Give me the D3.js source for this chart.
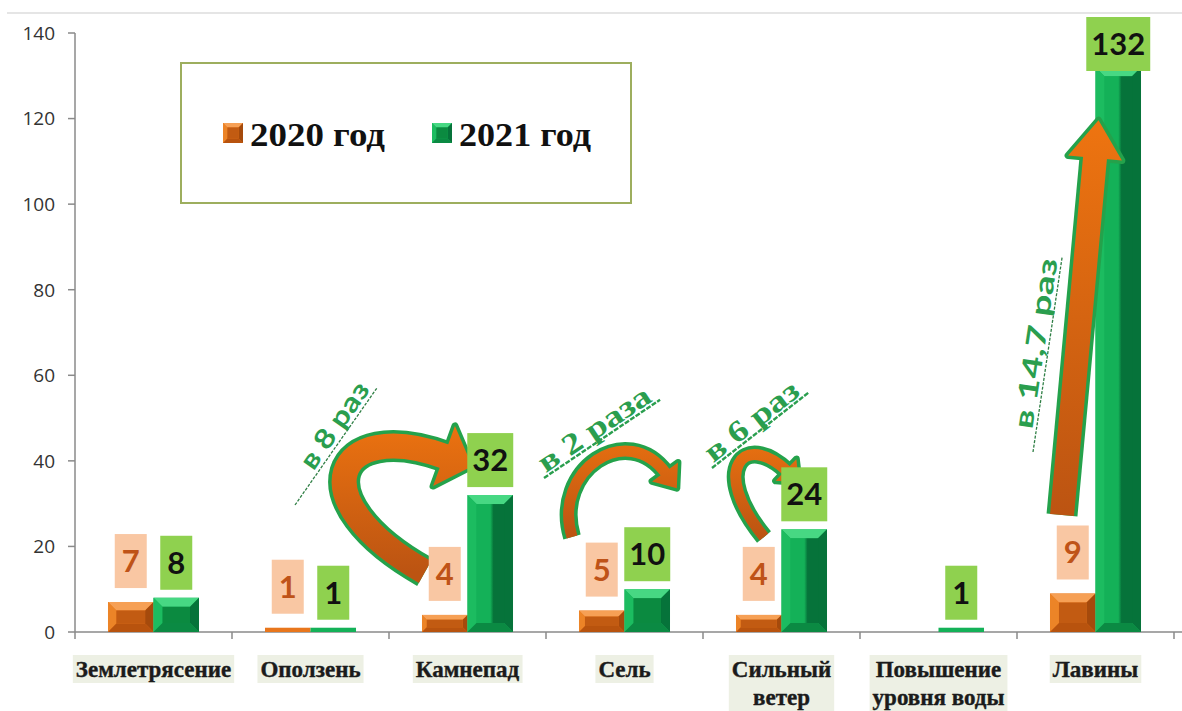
<!DOCTYPE html>
<html><head><meta charset="utf-8">
<script src="https://cdn.jsdelivr.net/npm/d3@7"></script>
<style>
html,body{margin:0;padding:0;background:#fff;}
svg{display:block;}
</style></head>
<body>
<svg id="chart" width="1182" height="711"></svg>
<script>
const categories = ["Землетрясение","Оползень","Камнепад","Сель","Сильный ветер","Повышение уровня воды","Лавины"];
const categoryLines = [["Землетрясение"],["Оползень"],["Камнепад"],["Сель"],["Сильный","ветер"],["Повышение","уровня воды"],["Лавины"]];
const seriesNames = ["2020 год","2021 год"];
const values2020 = [7,1,4,5,4,0,9];
const values2021 = [8,1,32,10,24,1,132];
const yTicks = [0,20,40,60,80,100,120,140];
const growthTexts = ["в 8 раз","в 2 раза","в 6 раз","в 14,7 раз"];
const growthCategories = ["Камнепад","Сель","Сильный ветер","Лавины"];

const svg = d3.select("#chart");
const W = 1182, H = 711;
const x = d3.scaleBand().domain(categories).range([75, 1174]).padding(0);
const xs = d3.scaleBand().domain(seriesNames).range([0, x.bandwidth()]).paddingInner(0).paddingOuter(0.725);
const y = d3.scaleLinear().domain([0, 140]).range([632, 33]);

const pal = [
  {main:"#E8761C", light:"#F6A055", mid:"#EC8427", dark:"#A54A0C", dark2:"#B8530E", inner:"#C25B12",
   box:"#F9C7A3", txt:"#BF5318"},
  {main:"#14B158", light:"#47D883", mid:"#1CBC60", dark:"#06733A", dark2:"#0B8A43", inner:"#0B8A40",
   box:"#8FD14F", txt:"#111"}
];

const defs = svg.append("defs");
pal.forEach((p,i)=>{
  const g = defs.append("linearGradient").attr("id","inner"+i).attr("x1",0).attr("x2",1).attr("y1",0).attr("y2",0);
  g.append("stop").attr("offset","0%").attr("stop-color",p.main);
  g.append("stop").attr("offset","50%").attr("stop-color",p.main);
  g.append("stop").attr("offset","62%").attr("stop-color",p.dark);
  g.append("stop").attr("offset","100%").attr("stop-color",p.dark);
});

// top border line
svg.append("line").attr("x1",7).attr("x2",W).attr("y1",13).attr("y2",13).attr("stroke","#dcdcdc").attr("stroke-width",1.5);

// axes
const axisColor = "#8a8a8a";
const gy = svg.append("g");
gy.append("line").attr("x1",75).attr("x2",75).attr("y1",y(140)).attr("y2",y(0)).attr("stroke",axisColor).attr("stroke-width",1.5);
yTicks.forEach(t=>{
  gy.append("line").attr("x1",68).attr("x2",75).attr("y1",y(t)).attr("y2",y(t)).attr("stroke",axisColor).attr("stroke-width",1.5);
  gy.append("text").attr("x",55).attr("y",y(t)).attr("dy","0.36em").attr("text-anchor","end")
    .attr("font-family","'Open Sans',sans-serif").attr("font-size",19).attr("fill","#333").text(t);
});
const gx = svg.append("g");
gx.append("line").attr("x1",75).attr("x2",W).attr("y1",y(0)).attr("y2",y(0)).attr("stroke",axisColor).attr("stroke-width",1.5);
categories.forEach(c=>{
  gx.append("line").attr("x1",x(c)).attr("x2",x(c)).attr("y1",y(0)).attr("y2",y(0)+7).attr("stroke",axisColor).attr("stroke-width",1.5);
});
gx.append("line").attr("x1",x.range()[1]).attr("x2",x.range()[1]).attr("y1",y(0)).attr("y2",y(0)+7).attr("stroke",axisColor).attr("stroke-width",1.5);

// category labels
categories.forEach((c,i)=>{
  const g = gx.append("g");
  const cx = x(c) + x.bandwidth()/2;
  const t = g.append("text").attr("text-anchor","middle")
    .attr("font-family","'Liberation Serif',serif").attr("font-weight","bold").attr("font-size",23)
    .attr("fill","#1b1b1b").attr("stroke","#1b1b1b").attr("stroke-width",0.4);
  categoryLines[i].forEach((ln,j)=>{
    t.append("tspan").attr("x",cx).attr("y",677 + j*28).text(ln);
  });
  const bb = t.node().getBBox();
  g.insert("rect","text").attr("x",bb.x-3).attr("y",bb.y-2).attr("width",bb.width+6).attr("height",bb.height+3).attr("fill","#EDF0E4");
});

function poly(g, pts, fill){ g.append("polygon").attr("points",pts.map(p=>p.join(",")).join(" ")).attr("fill",fill); }

function bevelBar(g, bx, by, w, h, p, i){
  g.append("rect").attr("x",bx).attr("y",by).attr("width",w).attr("height",h).attr("fill",p.main);
  if (h < 8) return;
  const b = Math.min(9, h*0.28, w*0.22);
  poly(g, [[bx,by],[bx+w,by],[bx+w-b,by+b],[bx+b,by+b]], p.light);
  poly(g, [[bx,by],[bx+b,by+b],[bx+b,by+h-b],[bx,by+h]], p.mid);
  poly(g, [[bx+w,by],[bx+w,by+h],[bx+w-b,by+h-b],[bx+w-b,by+b]], p.dark);
  poly(g, [[bx,by+h],[bx+b,by+h-b],[bx+w-b,by+h-b],[bx+w,by+h]], p.dark2);
  if (h > 60) {
    g.append("rect").attr("x",bx+b).attr("y",by+b).attr("width",w-2*b).attr("height",h-2*b).attr("fill","url(#inner"+i+")");
  } else {
    g.append("rect").attr("x",bx+b).attr("y",by+b).attr("width",w-2*b).attr("height",h-2*b).attr("fill",p.inner);
  }
}

// bars
const gb = svg.append("g");
const series = [values2020, values2021];
series.forEach((vals,i)=>{
  vals.forEach((v,k)=>{
    if (v <= 0) return;
    const c = categories[k];
    const bx = x(c) + xs(seriesNames[i]);
    bevelBar(gb, bx, y(v), xs.bandwidth(), y(0)-y(v), pal[i], i);
  });
});

// annotations (arrows)
const ga = svg.append("g");
function arrow(cat, rel, w, headLen, headHalf){
  const x0 = x(cat), base = y(0);
  const P = rel.map(r=>[x0+r[0], base+r[1]]);
  const [P0,P1,P2,P3] = P;
  const dx = P3[0]-P2[0], dy = P3[1]-P2[1], L = Math.hypot(dx,dy);
  const ux = dx/L, uy = dy/L, px = -uy, py = ux;
  const tip = [P3[0]+ux*headLen, P3[1]+uy*headLen];
  const c1 = [P3[0]+px*headHalf, P3[1]+py*headHalf];
  const c2 = [P3[0]-px*headHalf, P3[1]-py*headHalf];
  const d = `M${P0} C${P1} ${P2} ${[P3[0]+ux*2,P3[1]+uy*2]}`;
  const green = "#24A24B";
  const ys = [P0[1],P1[1],P2[1],P3[1],tip[1]];
  const gid = "ag"+Math.round(x0);
  const gr = defs.append("linearGradient").attr("id",gid).attr("gradientUnits","userSpaceOnUse")
     .attr("x1",0).attr("x2",0).attr("y1",d3.min(ys)).attr("y2",d3.max(ys));
  gr.append("stop").attr("offset","0%").attr("stop-color","#EE7410");
  gr.append("stop").attr("offset","100%").attr("stop-color","#BC5412");
  ga.append("path").attr("d",d).attr("fill","none").attr("stroke",green).attr("stroke-width",w+7);
  ga.append("polygon").attr("points",[c1,tip,c2].map(p=>p.join(",")).join(" ")).attr("fill",green)
    .attr("stroke",green).attr("stroke-width",7).attr("stroke-linejoin","round");
  ga.append("path").attr("d",d).attr("fill","none").attr("stroke","url(#"+gid+")").attr("stroke-width",w);
  ga.append("polygon").attr("points",[c1,tip,c2].map(p=>p.join(",")).join(" ")).attr("fill","url(#"+gid+")");
}
arrow(growthCategories[0], [[36,-60],[-92,-132],[-55,-216],[55,-176]], 25, 30, 32);
arrow(growthCategories[1], [[26,-95],[6,-162],[81,-212],[119,-160]], 11, 20, 16);
arrow(growthCategories[2], [[61,-95],[6,-162],[41,-202],[83,-162]], 11, 18, 15);
(function(){
  const a=[45,-117], b=[78,-474];
  const l=(t)=>[a[0]+(b[0]-a[0])*t, a[1]+(b[1]-a[1])*t];
  arrow(growthCategories[3], [a,l(1/3),l(2/3),b], 24, 38, 27);
})();

// growth texts: underline start (relative to category band start and baseline), angle, underline length, text start, text length
function growthText(i, rx, ry, angle, ulLen, tStart, tLen, serif){
  const x0 = x(growthCategories[i]), base = y(0);
  const g = ga.append("g").attr("transform",`translate(${x0+rx},${base+ry}) rotate(${angle})`);
  g.append("line").attr("x1",0).attr("x2",ulLen).attr("y1",0).attr("y2",0)
    .attr("stroke", serif ? "#2A9E4E" : "#2F7F45").attr("stroke-width", serif ? 2.4 : 1.3)
    .attr("stroke-dasharray", serif ? "5,1.5" : "3,1.5");
  g.append("text").attr("x",tStart).attr("y", serif ? -3 : -4)
    .attr("font-family", serif ? "'Liberation Serif',serif" : "Lato,'Open Sans',sans-serif")
    .attr("font-weight","bold").attr("font-size", serif ? 30 : 27)
    .attr("fill","#2A9E4E").attr("textLength",tLen).attr("lengthAdjust","spacingAndGlyphs").text(growthTexts[i]);
}
growthText(0, -94, -127, -55, 143, 38, 100, false);
growthText(1, -2, -154, -34, 140, 4, 130, true);
growthText(2, 9, -164, -38, 123, 4, 112, true);
growthText(3, 16, -180, -81.5, 197, 22, 172, false);

// value labels
const gl = svg.append("g");
const gaps = [14, 8];
series.forEach((vals,i)=>{
  vals.forEach((v,k)=>{
    if (v <= 0) return;
    const c = categories[k];
    const cx = x(c) + xs(seriesNames[i]) + xs.bandwidth()/2;
    const g = gl.append("g");
    const t = g.append("text").attr("text-anchor","middle")
      .attr("font-family","Lato,'Open Sans',sans-serif").attr("font-weight","bold").attr("font-size",31)
      .attr("fill",pal[i].txt).text(v);
    const tw = t.node().getComputedTextLength();
    const bw = Math.max(32, tw + 10), bh = 54;
    let bottom = y(v) - gaps[i];
    let top = Math.max(17, bottom - bh);
    g.insert("rect","text").attr("x",cx-bw/2).attr("y",top).attr("width",bw).attr("height",bh).attr("fill",pal[i].box);
    t.attr("x",cx).attr("y",top + bh/2 + 11);
  });
});

// legend
const lg = svg.append("g");
lg.append("rect").attr("x",181).attr("y",63).attr("width",450).attr("height",140).attr("fill","#fff")
  .attr("stroke","#9DAE5E").attr("stroke-width",2);
const legX = [223, 432];
const legLen = [135, 132];
seriesNames.forEach((s,i)=>{
  bevelBar(lg, legX[i], 123, 20, 20, pal[i], i);
  lg.append("text").attr("x",legX[i]+27).attr("y",146)
    .attr("font-family","'Liberation Serif',serif").attr("font-weight","bold").attr("font-size",33)
    .attr("fill","#111").attr("textLength",legLen[i]).attr("lengthAdjust","spacingAndGlyphs").text(s);
});
</script>
</body></html>
